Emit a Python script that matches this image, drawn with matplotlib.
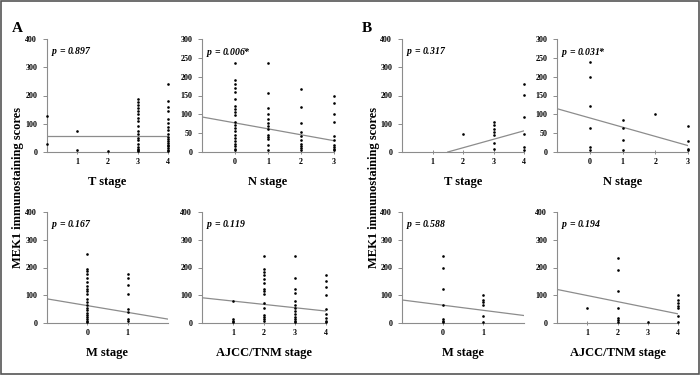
import matplotlib
matplotlib.use("Agg")
import matplotlib.pyplot as plt
from matplotlib.patches import Rectangle

plt.rcParams['font.family'] = ['Liberation Serif', 'DejaVu Serif']
plt.rcParams['font.weight'] = 'bold'

# ---- data ----
# panel A, T stage
a_t_x = [0, 0, 1, 1, 2] + [3] * 18 + [4] * 18
a_t_y = [128, 27, 74, 8, 2,
         187, 178, 168, 157, 146, 135, 122, 110, 93, 75, 63, 51, 42, 30, 18, 12, 6, 2,
         240, 180, 160, 146, 117, 101, 89, 77, 65, 53, 46, 39, 32, 26, 20, 14, 8, 4]
a_t_fit = ([0, 4], [57, 57])

# panel A, N stage
a_n_x = [0] * 21 + [1] * 13 + [2] * 10 + [3] * 10
a_n_y = [237, 191, 180, 170, 159, 141, 122, 113, 106, 99, 79, 71, 64, 55, 46, 37, 28, 22, 15, 8, 4,
         235, 156, 117, 102, 88, 78, 68, 61, 46, 41, 35, 19, 4,
         168, 119, 76, 53, 43, 33, 22, 15, 10, 5,
         148, 129, 101, 80, 42, 33, 19, 13, 8, 4]
a_n_fit = ([-1, 3], [93, 30])

# panel A, M stage
a_m_x = [0] * 21 + [1] * 8
a_m_y = [247, 196, 187, 175, 161, 147, 132, 123, 114, 106, 85, 74, 65, 55, 46, 36, 29, 22, 14, 7, 2,
         177, 163, 137, 106, 50, 38, 14, 7]
a_m_fit = ([-1, 2], [87, 14])

# panel A, AJCC/TNM stage
a_s_x = [1] * 4 + [2] * 15 + [3] * 13 + [4] * 9
a_s_y = [80, 15, 7, 2,
         243, 193, 184, 172, 158, 144, 122, 114, 104, 72, 55, 30, 21, 14, 7,
         243, 161, 122, 108, 81, 64, 55, 45, 33, 21, 14, 7, 2,
         173, 152, 131, 101, 49, 33, 19, 9, 2]
a_s_fit = ([0, 4], [91, 43])

# panel B, T stage
b_t_x = [2] + [3] * 7 + [4] * 6
b_t_y = [65, 106, 94, 82, 71, 59, 33, 9, 241, 202, 124, 65, 18, 7]
b_t_fit = ([1.5, 4], [0, 75])

# panel B, N stage
b_n_x = [0] * 6 + [1] * 4 + [2] + [3] * 4
b_n_y = [238, 199, 122, 64, 13, 4, 84, 64, 31, 6, 101, 70, 28, 9, 4]
b_n_fit = ([-1, 3], [115, 17])

# panel B, M stage
b_m_x = [0] * 7 + [1] * 6
b_m_y = [242, 198, 121, 65, 14, 8, 2, 101, 83, 74, 64, 26, 2]
b_m_fit = ([-1, 2], [83, 27])

# panel B, AJCC/TNM stage
b_s_x = [1] + [2] * 7 + [3] + [4] * 7
b_s_y = [55, 234, 192, 115, 54, 19, 10, 2, 2, 101, 84, 73, 63, 55, 24, 2]
b_s_fit = ([0, 4], [121, 33])

p_labels = ['0.897', '0.006*', '0.167', '0.119', '0.317', '0.031*', '0.588', '0.194']

W, H = 700, 378
fig = plt.figure(figsize=(7, 3.78), dpi=100)

plt.rcParams['mathtext.fontset'] = 'custom'
plt.rcParams['mathtext.it'] = 'Liberation Serif:italic:bold'

def px_axes(l, r, t, b):
	# axes from pixel edges
	return fig.add_axes([l / W, 1 - b / H, (r - l) / W, (b - t) / H])

def panel(ax, xs, ys, fit, xlim, xticks, ylim, yticks, xlabel, p):
	ax.plot(fit[0], fit[1], color='#8c8c8c', lw=0.9)
	# dots drawn above the spines, some sit on the axis
	ax.plot(xs, ys, 'o', color='black', ms=1.9, mew=0, clip_on=False, zorder=3)
	ax.set_xlim(xlim)
	ax.set_ylim(ylim)
	ax.set_xticks(xticks)
	ax.set_yticks(yticks)
	for s in ['top', 'right']:
		ax.spines[s].set_visible(False)
	for s in ['left', 'bottom']:
		ax.spines[s].set_color('#8c8c8c')
		ax.spines[s].set_linewidth(0.8)
	ax.tick_params(axis='y', direction='out', length=3, width=0.7, color='#8c8c8c',
		labelsize=5.8, pad=4)
	ax.tick_params(axis='x', direction='inout', length=3, width=0.7, color='#8c8c8c',
		labelsize=5.8, pad=3)
	for lab in ax.get_xticklabels() + ax.get_yticklabels():
		lab.set_fontweight('bold')
	ax.set_xlabel(xlabel, fontsize=9, fontweight='bold', labelpad=7)
	ax.text(0.03, 0.885, '$p$ = ' + p, transform=ax.transAxes, fontsize=7,
		fontstyle='italic', fontweight='bold', va='center')
	ax.patch.set_visible(False)

ax = px_axes(47, 168, 39, 152)
panel(ax, a_t_x, a_t_y, a_t_fit, (0, 4), [1, 2, 3, 4], (0, 400), [0, 100, 200, 300, 400], 'T stage', p_labels[0])
ax = px_axes(202, 334, 39, 152)
panel(ax, a_n_x, a_n_y, a_n_fit, (-1, 3), [0, 1, 2, 3], (0, 300), [0, 50, 100, 150, 200, 250, 300], 'N stage', p_labels[1])
ax = px_axes(47, 168, 212, 323)
panel(ax, a_m_x, a_m_y, a_m_fit, (-1, 2), [0, 1], (0, 400), [0, 100, 200, 300, 400], 'M stage', p_labels[2])
ax = px_axes(202, 326, 212, 323)
panel(ax, a_s_x, a_s_y, a_s_fit, (0, 4), [1, 2, 3, 4], (0, 400), [0, 100, 200, 300, 400], 'AJCC/TNM stage', p_labels[3])

ax = px_axes(402, 524, 39, 152)
panel(ax, b_t_x, b_t_y, b_t_fit, (0, 4), [1, 2, 3, 4], (0, 400), [0, 100, 200, 300, 400], 'T stage', p_labels[4])
ax = px_axes(557, 688, 39, 152)
panel(ax, b_n_x, b_n_y, b_n_fit, (-1, 3), [0, 1, 2, 3], (0, 300), [0, 50, 100, 150, 200, 250, 300], 'N stage', p_labels[5])
ax = px_axes(402, 524, 212, 323)
panel(ax, b_m_x, b_m_y, b_m_fit, (-1, 2), [0, 1], (0, 400), [0, 100, 200, 300, 400], 'M stage', p_labels[6])
ax = px_axes(557, 678, 212, 323)
panel(ax, b_s_x, b_s_y, b_s_fit, (0, 4), [1, 2, 3, 4], (0, 400), [0, 100, 200, 300, 400], 'AJCC/TNM stage', p_labels[7])

# panel letters and shared y labels
fig.text(17 / W, 1 - 28 / H, 'A', fontsize=11, fontweight='bold', ha='center', va='center')
fig.text(367 / W, 1 - 28 / H, 'B', fontsize=11, fontweight='bold', ha='center', va='center')
for xp in [18, 374]:
	fig.text(xp / W, 1 - 188 / H, 'MEK1 immunostaining scores', rotation=90, fontsize=9,
		fontweight='bold', ha='center', va='center')

# outer frame
fig.add_artist(Rectangle((0.5 / W, 1 - 373.5 / H), 698.5 / W, 373 / H, transform=fig.transFigure,
	fill=False, edgecolor='#555555', lw=1.2))

fig.savefig('out.png', dpi=100)
